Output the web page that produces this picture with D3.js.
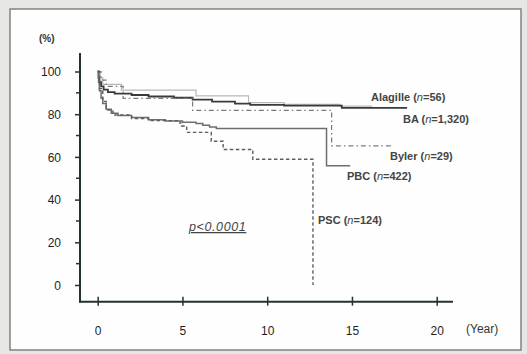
<!DOCTYPE html>
<html><head><meta charset="utf-8">
<script src="https://cdn.jsdelivr.net/npm/d3@7"></script>
<style>
html,body{margin:0;padding:0;background:#e6e6e4;}
svg{display:block;}
text{font-family:"Liberation Sans",Arial,sans-serif;}
</style></head>
<body>
<svg id="c" width="527" height="354"></svg>
<script>
// ---- data (time in years, survival %) ----
const xTicks = [0, 5, 10, 15, 20];
const yTicks = [0, 20, 40, 60, 80, 100];
const yMinor = [10, 30, 50, 70, 90];

const alagille = [[0,100],[0.15,97],[0.3,94],[1.4,91.3],[5.8,88.6],[8.9,85.4],[11,84.6],[14.3,83.8],[16.2,83.8]];
const ba = [[0,100],[0.05,97],[0.1,95],[0.2,93],[0.35,91.5],[0.6,90.3],[1,89.6],[2,89],[3,88.3],[4.5,87.7],[5.6,86.8],[6.75,85.9],[8.1,85],[9,84.4],[11,84],[14.4,83],[18.2,82.6]];
const byler = [[0,100],[0.2,96],[0.5,93],[1.5,87.4],[5.6,81.8],[13.8,65.2],[17.4,65.2]];
const pbc = [[0,100],[0.05,95],[0.1,91],[0.2,87.5],[0.3,85],[0.5,82.3],[0.8,80.5],[1.2,79.4],[2,78.4],[3,77.4],[4,76.8],[5,76.2],[5.8,75.6],[6.2,74.8],[6.6,74],[7,73.3],[13.5,55.8],[14.9,55.8]];
const psc = [[0,100],[0.1,92],[0.3,86],[0.5,82],[0.9,79.6],[2,78],[3,77],[4.85,75.8],[4.95,74.5],[5.25,71.5],[6.7,67.3],[7.4,63.5],[9.15,58.9],[12.7,0],[12.7,0]];

const seriesNames = ["Alagille (n=56)", "BA (n=1,320)", "Byler (n=29)", "PBC (n=422)", "PSC (n=124)"];

// ---- drawing ----
const svg = d3.select("#c");
// page frame
svg.append("rect").attr("x",10).attr("y",9).attr("width",511).attr("height",341)
  .attr("fill","#fefefe").attr("stroke","#7a7a78").attr("stroke-width",1.4);

const x = d3.scaleLinear().domain([0,20]).range([97.7,436.7]);
const y = d3.scaleLinear().domain([0,100]).range([285,71.5]);
const axisColor = "#263230";

// y axis
const gy = svg.append("g").attr("transform","translate(80,0)");
gy.call(d3.axisLeft(y).tickValues(yTicks).tickSize(5).tickPadding(14));
gy.select(".domain").remove();
gy.selectAll(".tick line").attr("stroke",axisColor).attr("stroke-width",1.5);
gy.selectAll(".tick text").attr("fill","#1e1e1e").style("font-size","12px").attr("dy","0.36em");
gy.selectAll(".minor").data(yMinor).enter().append("line")
  .attr("x1",-4).attr("x2",0).attr("y1",d=>y(d)).attr("y2",d=>y(d))
  .attr("stroke",axisColor).attr("stroke-width",1.5);
svg.append("line").attr("x1",80).attr("x2",80).attr("y1",53).attr("y2",302.5)
  .attr("stroke",axisColor).attr("stroke-width",2);

// x axis
const gx = svg.append("g").attr("transform","translate(0,301.7)");
gx.call(d3.axisBottom(x).tickValues(xTicks).tickSize(4).tickPadding(21));
gx.select(".domain").remove();
gx.selectAll(".tick line").attr("y1",-5).attr("stroke",axisColor).attr("stroke-width",1.5);
gx.selectAll(".tick text").attr("fill","#1e1e1e").style("font-size","12px");
svg.append("line").attr("x1",79).attr("x2",453).attr("y1",301.7).attr("y2",301.7)
  .attr("stroke",axisColor).attr("stroke-width",2);

svg.append("text").attr("x",39).attr("y",42).text("(%)").attr("fill","#333").style("font-size","10px").style("font-weight","bold");
svg.append("text").attr("x",466).attr("y",333).text("(Year)").attr("fill","#333").style("font-size","12px");

// curves
const line = d3.line().x(d=>x(d[0])).y(d=>y(d[1])).curve(d3.curveStepAfter);
const styles = [
  {data:alagille, stroke:"#b8b8b8", w:1.2, dash:null},
  {data:ba, stroke:"#3a3a3a", w:1.8, dash:null},
  {data:byler, stroke:"#7a7a7a", w:1.2, dash:"5,3,1.5,3"},
  {data:pbc, stroke:"#6e6e6e", w:1.5, dash:null},
  {data:psc, stroke:"#5e5e5e", w:1.4, dash:"3.5,2.5"}
];
styles.forEach(s=>{
  svg.append("path").attr("d",line(s.data)).attr("fill","none")
    .attr("stroke",s.stroke).attr("stroke-width",s.w)
    .attr("stroke-dasharray",s.dash);
});

// labels
const labelPos = [[371,101],[403,123],[390,160],[347,180],[318,224]];
seriesNames.forEach((n,i)=>{
  const m = n.match(/^(.*\()n(=.*)$/);
  const t = svg.append("text").attr("x",labelPos[i][0]).attr("y",labelPos[i][1])
    .attr("fill","#444").style("font-size","11px").style("font-weight","bold");
  t.append("tspan").text(m[1]);
  t.append("tspan").text("n").style("font-style","italic").style("font-weight","normal");
  t.append("tspan").text(m[2]);
});

svg.append("text").attr("x",189).attr("y",231).text("p<0.0001")
  .attr("fill","#444").style("font-size","12.5px").style("font-style","italic")
  .style("text-decoration","underline").attr("letter-spacing","0.6");
</script>
</body></html>
